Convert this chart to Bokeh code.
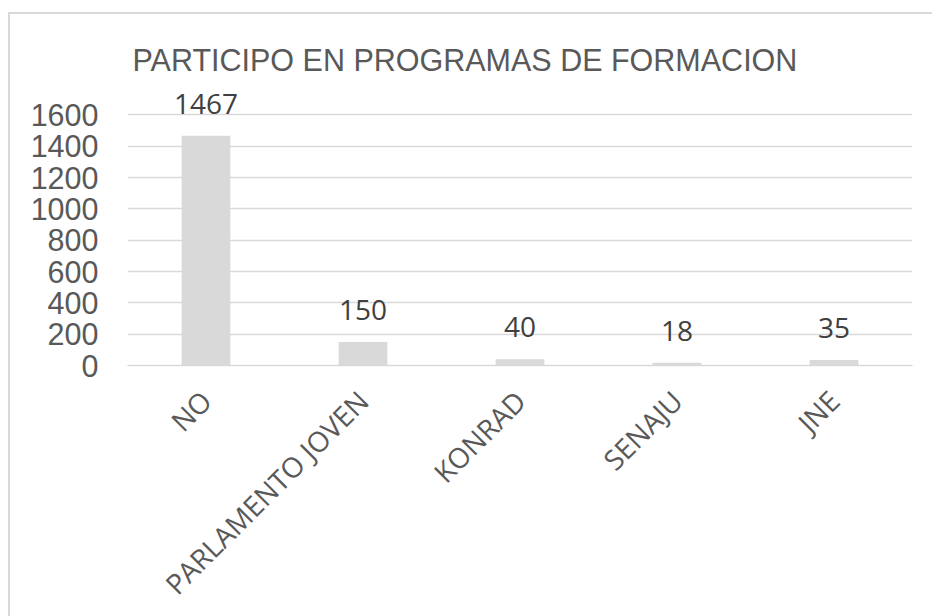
import math
from bokeh.plotting import figure
from bokeh.models import (ColumnDataSource, FactorRange, Range1d, FixedTicker,
                          LabelSet, Title)
from bokeh.core.properties import value
from bokeh.embed import file_html
from bokeh.resources import INLINE

categories = ["NO", "PARLAMENTO JOVEN", "KONRAD", "SENAJU", "JNE"]
values = [1467, 150, 40, 18, 35]
y_ticks = [0, 200, 400, 600, 800, 1000, 1200, 1400, 1600]
title_text = "PARTICIPO EN PROGRAMAS DE FORMACION"

source = ColumnDataSource(data=dict(cat=categories, val=values, lab=[str(v) for v in values]))

# figure placed at page (8,12) with a 2px top/left border -> content starts at (10,14)
p = figure(
    x_range=FactorRange(factors=categories),
    y_range=Range1d(0, 1800),
    width=922, height=600,
    frame_width=785, frame_height=282,
    min_border_left=117, min_border_right=20,
    min_border_top=69, min_border_bottom=249,
    output_backend="svg", toolbar_location=None,
)
p.styles = {
    "margin-left": "8px",
    "margin-top": "12px",
    "border-top": "2px solid #d9d9d9",
    "border-left": "2px solid #d9d9d9",
}

t = Title(text=title_text, align="left", offset=5, standoff=14,
          text_font="Liberation Sans", text_font_size="30.5px",
          text_font_style="normal", text_color="#595959")
p.add_layout(t, "above")

p.vbar(x="cat", top="val", width=0.31, source=source,
       fill_color="#d9d9d9", line_color=None)

labels = LabelSet(x="cat", y="val", text="lab", source=source,
                  text_align="center", text_baseline="alphabetic", y_offset=22,
                  text_font=value("Open Sans"), text_font_size=value("28px"),
                  text_color="#404040")
p.add_layout(labels)

p.outline_line_color = None
p.xgrid.grid_line_color = None
p.ygrid.grid_line_color = "#d9d9d9"
p.ygrid.grid_line_width = 1.5
p.yaxis.ticker = FixedTicker(ticks=y_ticks)

p.yaxis.axis_line_color = None
p.yaxis.major_tick_line_color = None
p.yaxis.minor_tick_line_color = None
p.yaxis.major_tick_out = 0
p.yaxis.major_tick_in = 0
p.yaxis.major_label_standoff = 29
p.yaxis.major_label_text_font = "Liberation Sans"
p.yaxis.major_label_text_font_size = "30.5px"
p.yaxis.major_label_text_color = "#595959"

p.xaxis.axis_line_color = "#d9d9d9"
p.xaxis.axis_line_width = 1.5
p.xaxis.major_tick_line_color = None
p.xaxis.minor_tick_line_color = None
p.xaxis.major_tick_out = 0
p.xaxis.major_tick_in = 0
p.xaxis.major_label_standoff = 30
p.xaxis.major_label_orientation = math.pi / 4
p.xaxis.major_label_text_font = "Open Sans"
p.xaxis.major_label_text_font_size = "28px"
p.xaxis.major_label_text_color = "#595959"

open("out.html", "w").write(file_html(p, INLINE))
